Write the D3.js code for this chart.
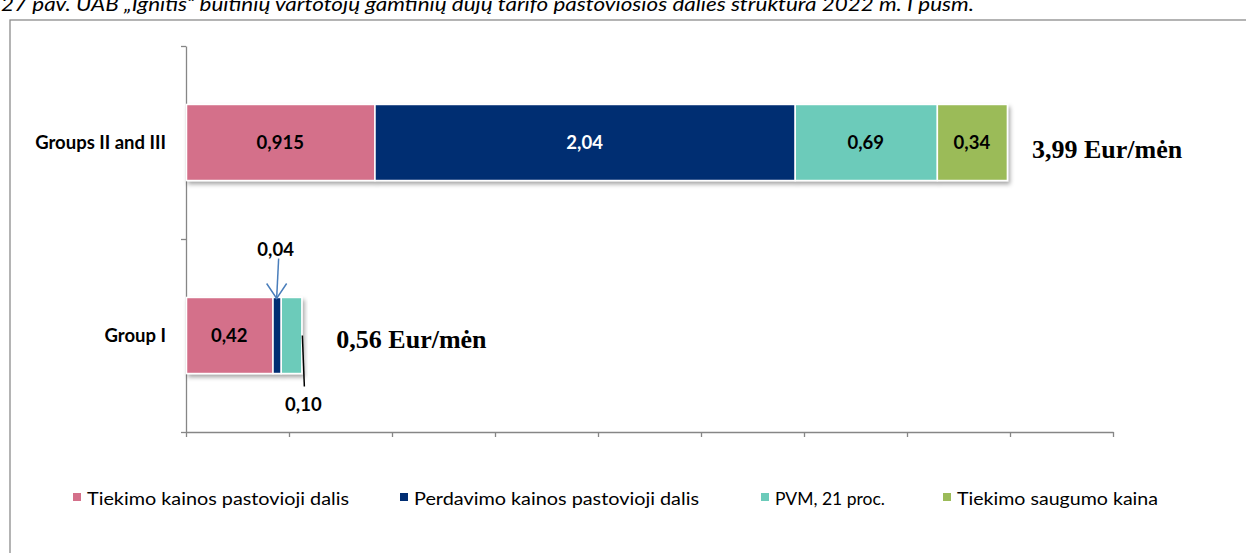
<!DOCTYPE html>
<html>
<head>
<meta charset="utf-8">
<script src="https://cdn.jsdelivr.net/npm/d3@7"></script>
<style>
  body { margin: 0; background: #fff; }
  svg { display: block; }
</style>
</head>
<body>
<svg id="chart" width="1246" height="553"></svg>
<script>
const title = "27 pav. UAB „Ignitis“ buitinių vartotojų gamtinių dujų tarifo pastoviosios dalies struktūra 2022 m. I pusm.";
const categories = ["Groups II and III", "Group I"];
const series = ["Tiekimo kainos pastovioji dalis", "Perdavimo kainos pastovioji dalis", "PVM, 21 proc.", "Tiekimo saugumo kaina"];
const groupsIIandIII = [0.915, 2.04, 0.69, 0.34];
const groupI = [0.42, 0.04, 0.10, 0];
const totals = [3.99, 0.56];
const totalUnit = "Eur/mėn";
const colors = ["#d4708a", "#002d72", "#6ccbba", "#9bbb59"];

const sans = 'Lato, "Open Sans", sans-serif';
const serif = '"Liberation Serif", "Times New Roman", serif';

const svg = d3.select('#chart');
const width = +svg.attr('width');

const fmt = v => {
  const s = String(v);
  const dec = s.includes('.') ? s.split('.')[1].length : 0;
  return v.toFixed(Math.max(2, dec)).replace('.', ',');
};

// title, clipped at the top like the original screenshot
svg.append('text')
  .attr('x', 1).attr('y', 11)
  .style('font-family', sans)
  .attr('font-size', 20).attr('font-style', 'italic')
  .attr('textLength', 973).attr('lengthAdjust', 'spacingAndGlyphs')
  .text(title);

// chart frame
svg.append('rect')
  .attr('x', 10).attr('y', 20)
  .attr('width', width + 20).attr('height', 600)
  .attr('fill', 'none').attr('stroke', '#8c8c8c').attr('stroke-width', 1.3);

const defs = svg.append('defs');
const shadow = defs.append('filter').attr('id', 'shadow')
  .attr('x', '-5%').attr('y', '-20%').attr('width', '110%').attr('height', '150%');
shadow.append('feDropShadow')
  .attr('dx', 2).attr('dy', 3).attr('stdDeviation', 2)
  .attr('flood-color', '#000').attr('flood-opacity', 0.35);

const x = d3.scaleLinear().domain([0, 4.5]).range([186, 1113]);
const y = d3.scaleBand().domain(categories).range([46, 432])
  .paddingInner(0.606).paddingOuter(0.303);
const yEdges = d3.scaleLinear().domain([0, categories.length]).range([432, 46]);

// data rows for the stack
const groupValues = [groupsIIandIII, groupI];
const rows = categories.map((c, i) => {
  const r = { cat: c };
  series.forEach((s, j) => r[s] = groupValues[i][j]);
  return r;
});
const stacked = d3.stack().keys(series)(rows);

// axes
svg.append('g')
  .attr('transform', `translate(0,${yEdges(0)})`)
  .call(d3.axisBottom(x).ticks(9).tickSize(5).tickSizeOuter(0).tickFormat(''))
  .call(g => g.selectAll('path, line').attr('stroke', '#868686').attr('stroke-width', 1.3));

svg.append('g')
  .attr('transform', `translate(${x(0)},0)`)
  .call(d3.axisLeft(yEdges).ticks(categories.length).tickSize(5).tickSizeOuter(0).tickFormat(''))
  .call(g => g.selectAll('path, line').attr('stroke', '#868686').attr('stroke-width', 1.3));

// category labels
svg.append('g').selectAll('text')
  .data(categories)
  .enter()
  .append('text')
  .attr('x', 166)
  .attr('y', d => y(d) + y.bandwidth() / 2 + 6)
  .attr('text-anchor', 'end')
  .style('font-family', sans)
  .attr('font-size', 18.5).attr('font-weight', 'bold')
  .text(d => d);

// bars
const barGroups = svg.append('g')
  .selectAll('g.bar')
  .data(categories)
  .enter()
  .append('g')
  .classed('bar', true)
  .attr('filter', 'url(#shadow)');

barGroups.each(function (cat, ci) {
  const segs = stacked.map((layer, si) => ({ si, d0: layer[ci][0], d1: layer[ci][1] }))
    .filter(s => s.d1 - s.d0 > 0);
  d3.select(this).selectAll('rect')
    .data(segs)
    .enter()
    .append('rect')
    .attr('x', s => x(s.d0) + 0.5)
    .attr('y', y(cat))
    .attr('width', s => x(s.d1) - x(s.d0))
    .attr('height', y.bandwidth())
    .attr('fill', s => colors[s.si])
    .attr('stroke', '#fff')
    .attr('stroke-width', 1.5);
});

// value labels inside the wide segments
const inner = [];
stacked.forEach((layer, si) => {
  layer.forEach((p, ci) => {
    const v = groupValues[ci][si];
    if (v > 0 && x(p[1]) - x(p[0]) > 40) {
      inner.push({ si, cat: categories[ci], mid: (p[0] + p[1]) / 2, v });
    }
  });
});
svg.append('g').selectAll('text')
  .data(inner)
  .enter()
  .append('text')
  .attr('x', d => x(d.mid))
  .attr('y', d => y(d.cat) + y.bandwidth() / 2 + 6)
  .attr('text-anchor', 'middle')
  .style('font-family', sans)
  .attr('font-size', 18.5).attr('font-weight', 'bold')
  .attr('fill', d => d.si === 1 ? '#fff' : '#000')
  .text(d => fmt(d.v));

// callouts for the thin Group I segments
const gI = categories[1];
const nav = stacked[1][1];
const navMid = x((nav[0] + nav[1]) / 2);
const barTop = y(gI);
const barMid = y(gI) + y.bandwidth() / 2;
const barBottom = y(gI) + y.bandwidth();

svg.append('line')
  .attr('x1', navMid + 2).attr('y1', barTop - 39)
  .attr('x2', navMid).attr('y2', barTop + 1)
  .attr('stroke', '#4a7ebb').attr('stroke-width', 1.5);
svg.append('path')
  .attr('d', `M${navMid - 10},${barTop - 14}L${navMid},${barTop + 1}L${navMid + 10},${barTop - 14}`)
  .attr('fill', 'none').attr('stroke', '#4a7ebb').attr('stroke-width', 1.5);
svg.append('text')
  .attr('x', navMid - 1).attr('y', barTop - 41)
  .attr('text-anchor', 'middle')
  .style('font-family', sans)
  .attr('font-size', 18.5).attr('font-weight', 'bold')
  .text(fmt(groupI[1]));

const pvm = stacked[2][1];
svg.append('line')
  .attr('x1', x(pvm[1]) + 1).attr('y1', barMid)
  .attr('x2', x(pvm[1]) + 3).attr('y2', barBottom + 13)
  .attr('stroke', '#000').attr('stroke-width', 1.5);
svg.append('text')
  .attr('x', x(pvm[1]) + 2).attr('y', barBottom + 37)
  .attr('text-anchor', 'middle')
  .style('font-family', sans)
  .attr('font-size', 18.5).attr('font-weight', 'bold')
  .text(fmt(groupI[2]));

// totals
const totalOffsets = [24, 35];
const totalDy = [15, 12];
svg.append('g').selectAll('text')
  .data(categories)
  .enter()
  .append('text')
  .attr('x', (d, i) => x(totals[i]) + totalOffsets[i])
  .attr('y', (d, i) => y(d) + y.bandwidth() / 2 + totalDy[i])
  .style('font-family', serif)
  .attr('font-size', 26).attr('font-weight', 'bold')
  .text((d, i) => `${fmt(totals[i])} ${totalUnit}`);

// legend
const legendX = [73, 400, 761, 943];
const legendW = [262, 285, 110, 201];
const legend = svg.append('g')
  .selectAll('g.item')
  .data(series)
  .enter()
  .append('g')
  .classed('item', true)
  .attr('transform', (d, i) => `translate(${legendX[i]},493)`);
legend.append('rect')
  .attr('width', 8).attr('height', 8)
  .attr('fill', (d, i) => colors[i]);
legend.append('text')
  .attr('x', 14).attr('y', 12)
  .style('font-family', sans)
  .attr('font-size', 18)
  .attr('textLength', (d, i) => legendW[i]).attr('lengthAdjust', 'spacingAndGlyphs')
  .text(d => d);
</script>
</body>
</html>
